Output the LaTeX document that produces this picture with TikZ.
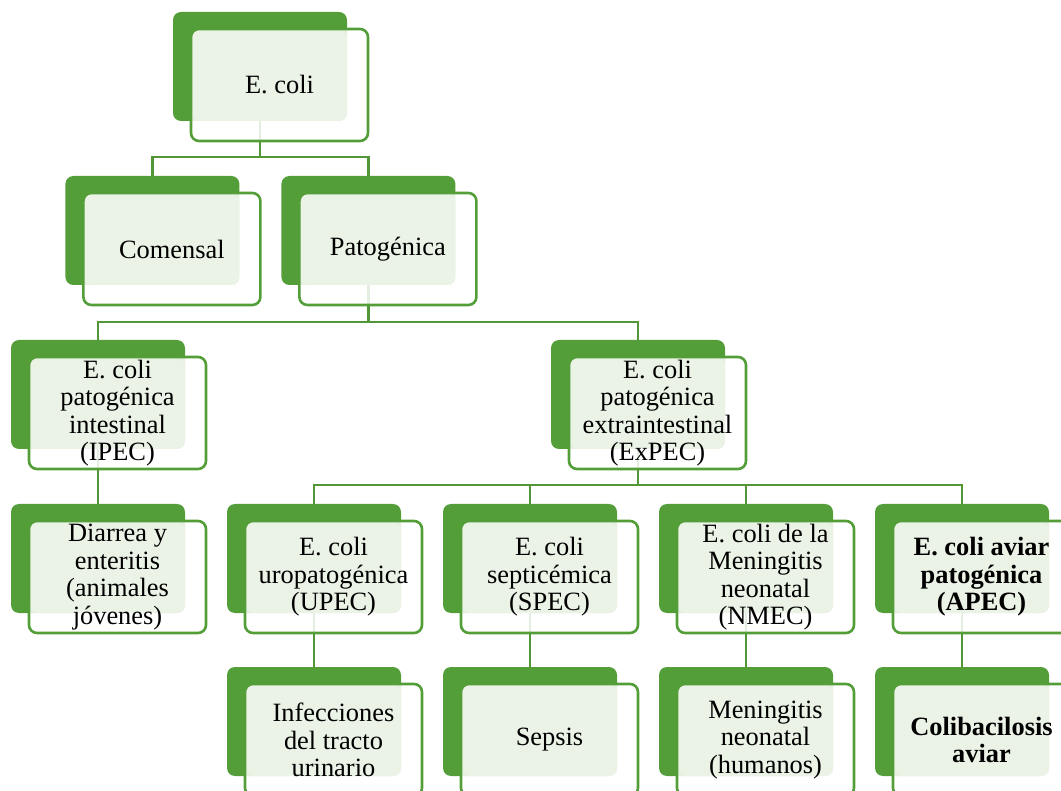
\documentclass[tikz,border=0pt]{standalone}
\usepackage{fontspec}
\setmainfont{Liberation Serif}
\usetikzlibrary{calc, backgrounds}
\definecolor{LeafGreen}{RGB}{84,158,58}
\definecolor{LeafLine}{RGB}{82,150,56}
\definecolor{LeafTint}{RGB}{235,242,230}

\tikzset{
  backbox/.style={rectangle, rounded corners=8pt, fill=LeafGreen,
    minimum width=174pt, minimum height=109pt, inner sep=0pt, outer sep=0pt},
  frontbox/.style={rectangle, rounded corners=8pt, draw=LeafGreen, line width=2.6pt,
    fill=white, fill opacity=0.85, text opacity=1, draw opacity=1,
    minimum width=177pt, minimum height=112pt, inner sep=0pt, outer sep=0pt,
    align=center, font=\fontsize{26.4}{27.5}\selectfont},
  link/.style={draw=LeafLine, line width=2.5pt},
}

% back plate + front card, text centred on the card
\newcommand{\ecnode}[4]{%
  \node[backbox] (#1-b) at (#2,#3) {};
  \node[frontbox, path picture={
      \fill[LeafTint, fill opacity=1, rounded corners=8pt]
        ([shift={(1.3pt,-1.3pt)}]path picture bounding box.north west)
        rectangle (#1-b.south east);}]
    (#1) at ($(#1-b)+(19.5,18.5)$) {#4};
}

\begin{document}
\begin{tikzpicture}[x=1pt, y=-1pt]
  \useasboundingbox (0,0) rectangle (1061,791);
  \clip (0,0) rectangle (1061,791);

  % level 1 and 2
  \ecnode{ecoli}{260}{66.5}{E. coli}
  \ecnode{comensal}{152.4}{230.5}{Comensal}
  \ecnode{patogenica}{368.4}{230.5}{Patogénica}

  % level 3
  \ecnode{ipec}{98}{394.5}{E. coli\\patogénica\\intestinal\\(IPEC)}
  \ecnode{expec}{638}{394.5}{E. coli\\patogénica\\extraintestinal\\(ExPEC)}

  % level 4
  \ecnode{diarrea}{98}{558.5}{Diarrea y\\enteritis\\(animales\\jóvenes)}
  \ecnode{upec}{314}{558.5}{E. coli\\uropatogénica\\(UPEC)}
  \ecnode{spec}{530}{558.5}{E. coli\\septicémica\\(SPEC)}
  \ecnode{nmec}{746}{558.5}{E. coli de la\\Meningitis\\neonatal\\(NMEC)}
  \ecnode{apec}{962}{558.5}{\bfseries E. coli aviar\\\bfseries patogénica\\\bfseries (APEC)}

  % level 5
  \ecnode{infecciones}{314}{721.5}{Infecciones\\del tracto\\urinario}
  \ecnode{sepsis}{530}{721.5}{Sepsis}
  \ecnode{meningitis}{746}{721.5}{Meningitis\\neonatal\\(humanos)}
  \ecnode{colibacilosis}{962}{721.5}{\bfseries Colibacilosis\\\bfseries aviar}

  % connectors behind the cards
  \begin{scope}[on background layer]
    \foreach \kid in {comensal, patogenica}
      \draw[link] (ecoli-b.south) -- ++(0,36) -| (\kid-b.north);
    \foreach \kid in {ipec, expec}
      \draw[link] (patogenica-b.south) -- ++(0,37) -| (\kid-b.north);
    \foreach \kid in {upec, spec, nmec, apec}
      \draw[link] (expec-b.south) -- ++(0,36) -| (\kid-b.north);
    \draw[link] (ipec-b.south) -- (diarrea-b.north);
    \draw[link] (upec-b.south) -- (infecciones-b.north);
    \draw[link] (spec-b.south) -- (sepsis-b.north);
    \draw[link] (nmec-b.south) -- (meningitis-b.north);
    \draw[link] (apec-b.south) -- (colibacilosis-b.north);
  \end{scope}
\end{tikzpicture}
\end{document}
